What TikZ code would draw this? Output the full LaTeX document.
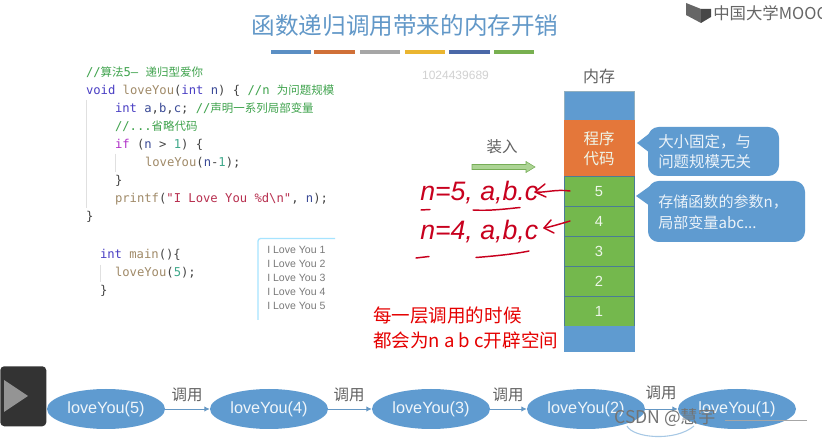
\documentclass[tikz,border=0pt]{standalone}
\usepackage{fontspec}
\setmainfont{Liberation Sans}
\newfontfamily\cjk{Noto Sans CJK SC}
\newfontfamily\mono{DejaVu Sans Mono}
\usetikzlibrary{arrows.meta,shapes.geometric,shapes.arrows,calc}
\definecolor{cblue}{HTML}{5F9BD0}
\definecolor{corange}{HTML}{E4773A}
\definecolor{cgreen}{HTML}{74B84D}
\definecolor{cbord}{HTML}{4A7C96}
\definecolor{ccom}{HTML}{3FA34D}
\definecolor{ckey}{HTML}{4A3FC4}
\definecolor{cif}{HTML}{B030C8}
\definecolor{cfun}{HTML}{A08A68}
\definecolor{cstr}{HTML}{B83050}
\definecolor{cnum}{HTML}{3FA88A}
\definecolor{cvar}{HTML}{3A4A96}
\definecolor{cpun}{HTML}{444444}
\definecolor{cred}{HTML}{C8001E}
\newcommand{\Z}[1]{{\cjk\fontsize{8.6pt}{10pt}\selectfont #1}}
\newcommand{\cc}[2]{\textcolor{#1}{#2}}
\tikzset{
  x=0.75pt,y=-0.75pt,
  code/.style={anchor=base west,inner sep=0,outer sep=0,font=\mono\fontsize{9.15pt}{11pt}\selectfont,text=cpun},
  cell/.style={draw=cbord,line width=0.7pt,fill=cgreen,minimum width=52.5pt,inner sep=0,text=white!88!cgreen,font=\fontsize{11pt}{13pt}\selectfont},
  callout/.style={fill=cblue,draw=none},
  calltext/.style={anchor=west,inner sep=0,align=left,text=white!88!cblue,font=\cjk\fontsize{11.6pt}{15pt}\selectfont},
  ell/.style={ellipse,fill=cblue,minimum width=88.5pt,minimum height=30pt,inner sep=0,text=white!90!cblue,font=\fontsize{12.2pt}{14pt}\selectfont},
  call/.style={draw=cblue!85!gray,line width=0.7pt,-{Latex[length=4pt,width=4pt]},shorten >=0pt},
  grayt/.style={inner sep=0,text=black!62,font=\cjk\fontsize{12pt}{14pt}\selectfont},
  hand/.style={anchor=base west,inner sep=0,text=cred,font=\itshape\fontsize{20pt}{22pt}\selectfont},
  ink/.style={draw=cred,line width=1.1pt,line cap=round,line join=round},
  redt/.style={anchor=base west,inner sep=0,text=red!90!black,font=\cjk\fontsize{13.9pt}{16pt}\selectfont},
  outtext/.style={anchor=base west,inner sep=0,text=black!52,font=\fontsize{7.9pt}{9pt}\selectfont},
  bar/.style={line width=3.4pt}
}
\begin{document}
\begin{tikzpicture}
\useasboundingbox (0,0) rectangle (822,438);
\fill[white] (0,0) rectangle (822,438);
% title
\node[inner sep=0,text=cblue!90!gray,font=\cjk\fontsize{17.7pt}{20pt}\selectfont] (title) at (405,26) {函数递归调用带来的内存开销};
\foreach \a/\b/\c in {271/311/5B8FC4,314/355/D07038,360/400/A6A6A6,405/445/EAB530,449/490/4A68A8,494/534/78B050}{
  \definecolor{tmpc}{HTML}{\c}\draw[bar,tmpc] (\a,52) -- (\b,52);}
% logo
\fill[black!60] (686,3) -- (701,9) -- (701,23) -- (686,15) -- cycle;
\fill[black!72] (701,9) -- (711,9) -- (711,17) -- (701,23) -- cycle;
\node[anchor=west,inner sep=0,text=black!60,font=\cjk\fontsize{12.3pt}{14pt}\selectfont] (mooc) at (713,13) {中国大学MOOC};
\node[inner sep=0,text=black!18,font=\fontsize{9pt}{11pt}\selectfont] (wm) at (455.5,75) {1024439689};
% code
\draw[black!12,line width=0.5pt] (86.5,100) -- (86.5,208);
\draw[black!12,line width=0.5pt] (115,154) -- (115,172);
\draw[black!12,line width=0.5pt] (100,265) -- (100,282);
\node[code] (l1) at (86,77) {\cc{ccom}{//\Z{算法}5— \Z{递归型爱你}}};
\node[code] (l2) at (86,95) {\cc{ckey}{void} \cc{cfun}{loveYou}(\cc{ckey}{int} \cc{cvar}{n}) \{   \cc{ccom}{//n \Z{为问题规模}}};
\node[code] (l3) at (115,113) {\cc{ckey}{int} \cc{cvar}{a},\cc{cvar}{b},\cc{cvar}{c};  \cc{ccom}{//\Z{声明一系列局部变量}}};
\node[code] (l4) at (115,131) {\cc{ccom}{//...\Z{省略代码}}};
\node[code] (l5) at (115,149) {\cc{cif}{if} (\cc{cvar}{n} > \cc{cnum}{1}) \{};
\node[code] (l6) at (145,167) {\cc{cfun}{loveYou}(\cc{cvar}{n}-\cc{cnum}{1});};
\node[code] (l7) at (115,185) {\}};
\node[code] (l8) at (115,203) {\cc{cfun}{printf}(\cc{cstr}{"I Love You \%d\textbackslash n"}, \cc{cvar}{n});};
\node[code] (l9) at (86,221) {\}};
\node[code] (m1) at (100,259) {\cc{ckey}{int} \cc{cfun}{main}()\{};
\node[code] (m2) at (115,277) {\cc{cfun}{loveYou}(\cc{cnum}{5});};
\node[code] (m3) at (100,295) {\}};
% output box
\draw[blue!30!cyan!35!white,line width=1pt,rounded corners=2pt] (258,320) -- (258,238.5) -- (335,238.5);
\foreach \i/\y in {1/254,2/268,3/282,4/296,5/310}{
  \node[outtext] (o\i) at (267,\y) {I Love You \i};}
% memory
\node[grayt,font=\cjk\fontsize{12pt}{14pt}\selectfont] (memlabel) at (599,76) {内存};
\node[cell,fill=cblue,draw=cbord!60,anchor=north,minimum height=22pt] (mtop) at (599,91) {};
\node[cell,fill=corange,draw=corange,anchor=north,minimum height=42pt,align=center,font=\cjk\fontsize{11.6pt}{15.5pt}\selectfont] (mcode) at (599,120) {程序\\代码};
\foreach \n/\y in {5/176,4/206,3/236,2/266,1/296}{
  \node[cell,anchor=north,minimum height=22.5pt] (m\n) at (599,\y) {\n};}
\node[cell,fill=cblue,draw=cblue,anchor=north,minimum height=18.5pt] (mbot) at (599,326.5) {};
% callouts
\fill[callout,rounded corners=8pt] (648,127) -- (779,127) -- (779,176) -- (648,176) -- cycle;
\fill[callout] (637,143) -- (650,133) -- (650,153) -- cycle;
\fill[callout,rounded corners=8pt] (648,181) -- (805,181) -- (805,242) -- (648,242) -- cycle;
\fill[callout] (636,196) -- (650,186) -- (650,206) -- cycle;
\node[calltext] (c1) at (658,151.5) {大小固定，与\\问题规模无关};
\node[calltext,font=\cjk\fontsize{11.3pt}{16pt}\selectfont] (c2) at (658,212) {存储函数的参数n，\\局部变量abc...};
% load arrow
\node[grayt,font=\cjk\fontsize{11.6pt}{14pt}\selectfont] (load) at (502,147) {装入};
\fill[cgreen!60!white,draw=cgreen!80!gray,line width=0.4pt] (472,164.5) -- (526,164.5) -- (526,161.5) -- (535,167) -- (526,172.5) -- (526,169.5) -- (472,169.5) -- cycle;
% handwriting
\node[hand] (h1) at (420,201) {n=5, a,b.c};
\node[hand] (h2) at (420,240) {n=4, a,b,c};
\draw[ink] (421,210) -- (430,209.5);
\draw[ink] (473,210) .. controls (490,211) and (505,209) .. (520,207.5);
\draw[ink] (416,258) -- (429,256.5);
\draw[ink] (476,257.5) .. controls (495,256) and (515,254) .. (529,251);
\draw[ink] (570,191) .. controls (555,189) and (545,193) .. (535,192);
\draw[ink] (545,184) -- (535,192) -- (546,197);
\draw[ink] (570,221) .. controls (560,224) and (550,227) .. (544,228);
\draw[ink] (551,220) -- (544,228) -- (554,233);
% red note
\node[redt] (r1) at (373,323) {每一层调用的时候};
\node[redt] (r2) at (373,347.5) {都会为n a b c开辟空间};
% play box
\node[fill=black!80,rounded corners=3pt,minimum width=34.5pt,minimum height=45pt,inner sep=0,anchor=north west] (play) at (0,366) {};
\fill[black!42] (4,380) -- (28,396) -- (4,412) -- cycle;
% ellipses
\node[ell] (e5) at (106,409) {loveYou(5)};
\node[ell] (e4) at (269,409) {loveYou(4)};
\node[ell] (e3) at (431,409) {loveYou(3)};
\node[ell] (e2) at (586,409) {loveYou(2)};
\node[ell] (e1) at (737,409) {loveYou(1)};
\draw[call] (e5) -- (e4);
\draw[call] (e4) -- (e3);
\draw[call] (e3) -- (e2);
\draw[call] (e2) -- (e1);
\node[grayt,font=\cjk\fontsize{11.6pt}{14pt}\selectfont] (t1) at (187,395) {调用};
\node[grayt,font=\cjk\fontsize{11.6pt}{14pt}\selectfont] (t2) at (349,395) {调用};
\node[grayt,font=\cjk\fontsize{11.6pt}{14pt}\selectfont] (t3) at (508,395) {调用};
\node[grayt,font=\cjk\fontsize{11.6pt}{14pt}\selectfont] (t4) at (661,393) {调用};
% loop arc below
\draw[cblue!55!white,line width=0.8pt] (627,426) .. controls (633,438) and (675,442) .. (694,426);
% watermark
\draw[black!35,line width=0.7pt] (725,420) -- (807,420);
\node[anchor=base west,inner sep=0,text=black!55,font=\cjk\fontsize{13.2pt}{15pt}\selectfont] (csdn) at (614,424) {CSDN @慧宇};
\end{tikzpicture}
\end{document}
